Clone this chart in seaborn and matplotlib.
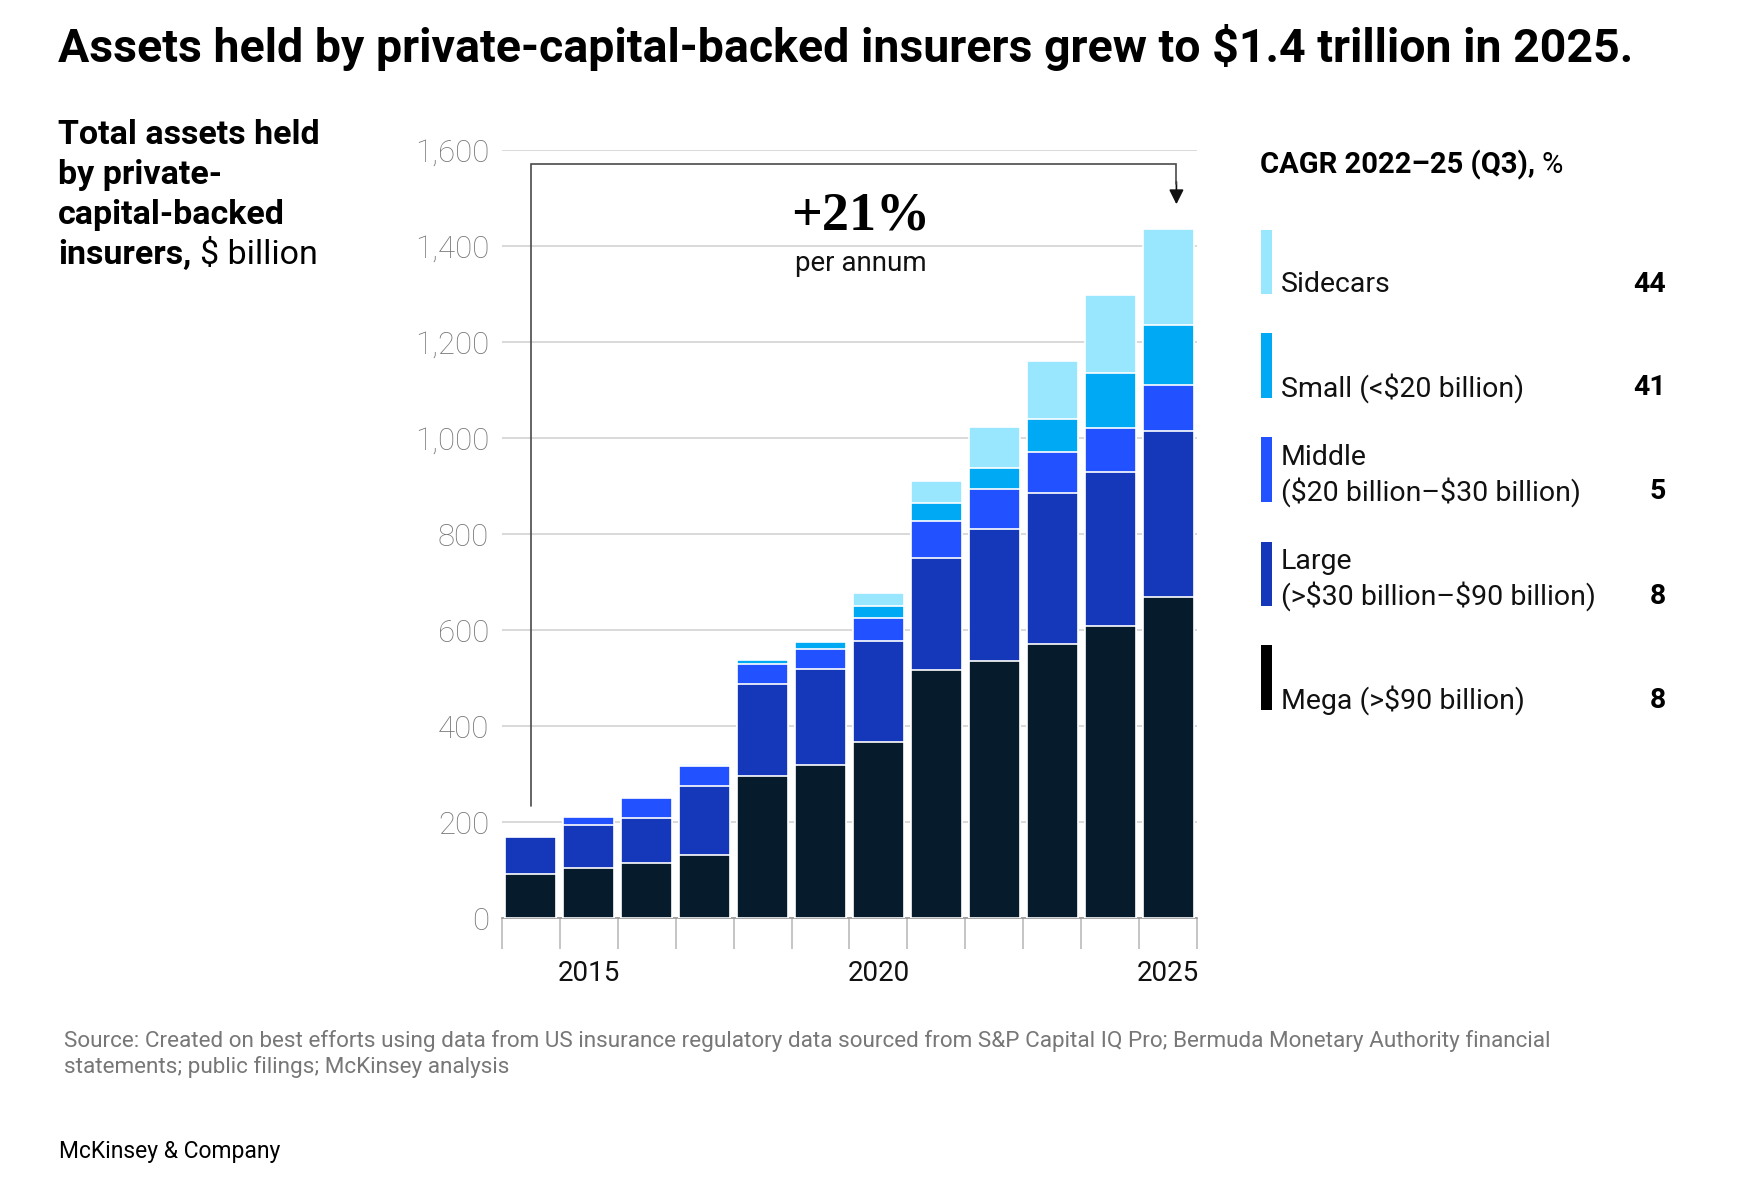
import numpy as np
import pandas as pd
import seaborn as sns
import matplotlib.pyplot as plt
from matplotlib.patches import Rectangle

#### Data, $ billion
years = [str(y) for y in range(2014, 2026)]
mega = [93, 105, 116, 133, 297, 319, 368, 518, 536, 572, 609, 670]
large = [76, 90, 94, 142, 191, 201, 211, 233, 276, 314, 321, 345]
middle = [0, 17, 42, 43, 42, 41, 47, 78, 83, 86, 92, 96]
small = [0, 0, 0, 0, 8, 15, 26, 36, 44, 69, 114, 126]
sidecars = [0, 0, 0, 3, 0, 0, 26, 46, 84, 121, 162, 200]

segments = ['Mega', 'Large', 'Middle', 'Small', 'Sidecars']
legend_labels = ['Mega (>$90 billion)', 'Large\n(>$30 billion\u2013$90 billion)',
                 'Middle\n($20 billion\u2013$30 billion)', 'Small (<$20 billion)', 'Sidecars']
cagr = ['8', '8', '5', '41', '44']
colors = ['#061C2C', '#1537BA', '#2251FF', '#00A9F4', '#99E6FF']
legend_colors = ['#000000', '#1537BA', '#2251FF', '#00A9F4', '#99E6FF']

y_ticks = [0, 200, 400, 600, 800, 1000, 1200, 1400, 1600]
x_labels = ['2015', '2020', '2025']
growth_text = '+21%'

df = pd.DataFrame({'year': years, 'Mega': mega, 'Large': large, 'Middle': middle,
                   'Small': small, 'Sidecars': sidecars})
# cumulative tops for the stacked look
cum = df[segments].cumsum(axis=1)

sns.set_theme(style='white')
plt.rcParams['font.family'] = ['Roboto', 'DejaVu Sans']
plt.rcParams['text.parse_math'] = False

# layout helpers: positions measured on a 1568 x 1064 view of the reference
W, H = 1568.0, 1064.0
fx = lambda x: x / W
fy = lambda y: 1 - y / H

fig = plt.figure(figsize=(17.48, 11.86), dpi=100)
ax = fig.add_axes([fx(450), fy(824), fx(1074) - fx(450), fy(135) - fy(824)])

# draw tallest first so the lower segments sit on top
for seg, col in reversed(list(zip(segments, colors))):
    sns.barplot(x=df['year'], y=cum[seg], color=col, width=0.87, edgecolor='white',
                linewidth=1.2, saturation=1, ax=ax, zorder=3)

ax.set_xlim(-0.5, len(years) - 0.5)
ax.set_ylim(0, 1600)
ax.set_yticks(y_ticks)
ax.set_yticklabels([f'{v:,}' for v in y_ticks], color='#767676', fontsize=22.5,
                   fontweight='light')
ax.yaxis.grid(True, color='#cfcfcf', linewidth=1.1, zorder=0)
ax.set_axisbelow(True)
for s in ['top', 'right', 'left']:
    ax.spines[s].set_visible(False)
ax.spines['bottom'].set_color('#999999')
ax.spines['bottom'].set_linewidth(1.2)
ax.tick_params(axis='y', length=0, pad=9)

# year labels only on 2015, 2020, 2025; separators between bars as minor ticks
ax.set_xticks([years.index(y) for y in x_labels])
ax.set_xticklabels(x_labels, fontsize=20, color='#111111')
ax.set_xticks(np.arange(-0.5, len(years)), minor=True)
ax.tick_params(axis='x', which='major', length=0, pad=30)
ax.tick_params(axis='x', which='minor', length=22.5, width=1.1, color='#b5b5b5',
               direction='out', bottom=True)
ax.set_xlabel('')
ax.set_ylabel('')

# CAGR bracket
bx0, bx1, by0, by1 = 0, 11.14, 235, 1572
ax.plot([bx0, bx0, bx1, bx1], [by0, by1, by1, 1530], color='#4a4a4a', lw=1.2,
        clip_on=False, zorder=4, solid_joinstyle='miter')
ax.annotate('', xy=(bx1, 1488), xytext=(bx1, 1535),
            arrowprops=dict(arrowstyle='-|>', color='#111111', lw=1.2,
                            mutation_scale=22, shrinkA=0, shrinkB=0))
fig.text(fx(772), fy(194), growth_text, ha='center', va='center', fontsize=39,
         family=['Liberation Serif', 'DejaVu Serif'], fontweight='bold', color='#000000')
fig.text(fx(772), fy(236), 'per annum', ha='center', va='center', fontsize=20, color='#111111')

# title
fig.text(fx(52), fy(43), 'Assets held by private-capital-backed insurers grew to $1.4 trillion in 2025.',
         ha='left', va='center', fontsize=33.5, fontweight='bold', color='#000000')

# left label block, bold with a regular tail
for i, line in enumerate(['Total assets held', 'by private-', 'capital-backed']):
    fig.text(fx(52), fy(121 + 36 * i), line, ha='left', va='center', fontsize=24.5,
             fontweight='bold', color='#000000')
t_ins = fig.text(fx(52), fy(229), 'insurers,', ha='left', va='center', fontsize=24.5,
                 fontweight='bold', color='#000000')
fig.canvas.draw()
r = fig.canvas.get_renderer()
bb = t_ins.get_window_extent(r).transformed(fig.transFigure.inverted())
fig.text(bb.x1 + 0.005, fy(229), '$ billion', ha='left', va='center', fontsize=24.5,
         color='#000000')

# legend heading
t_head = fig.text(fx(1130), fy(148), 'CAGR 2022\u201325 (Q3),', ha='left', va='center',
                  fontsize=21, fontweight='bold', color='#000000')
fig.canvas.draw()
bb = t_head.get_window_extent(r).transformed(fig.transFigure.inverted())
fig.text(bb.x1 + 0.004, fy(148), '%', ha='left', va='center', fontsize=21, color='#000000')

# legend entries, top to bottom
patch_tops = [206, 299, 392, 486, 579]
for i, idx in enumerate([4, 3, 2, 1, 0]):
    top = patch_tops[i]
    fig.add_artist(Rectangle((fx(1131), fy(top + 58)), fx(10), 58 / H,
                             transform=fig.transFigure,
                             facecolor=legend_colors[idx], edgecolor='none'))
    base = top + 58 - 9
    lines = legend_labels[idx].split('\n')
    for j, line in enumerate(reversed(lines)):
        fig.text(fx(1149), fy(base - 31 * j), line, ha='left', va='center',
                 fontsize=20.5, color='#111111')
    fig.text(fx(1494), fy(base), cagr[idx], ha='right', va='center', fontsize=20.5,
             fontweight='bold', color='#000000')

# source + brand
fig.text(fx(57), fy(934), 'Source: Created on best efforts using data from US insurance regulatory data '
         'sourced from S&P Capital IQ Pro; Bermuda Monetary Authority financial',
         ha='left', va='center', fontsize=16.2, color='#777777')
fig.text(fx(57), fy(957), 'statements; public filings; McKinsey analysis',
         ha='left', va='center', fontsize=16.2, color='#777777')
fig.text(fx(53), fy(1033), 'McKinsey & Company', ha='left', va='center', fontsize=16.5,
         color='#000000')

fig.savefig('out.png', dpi=100)
